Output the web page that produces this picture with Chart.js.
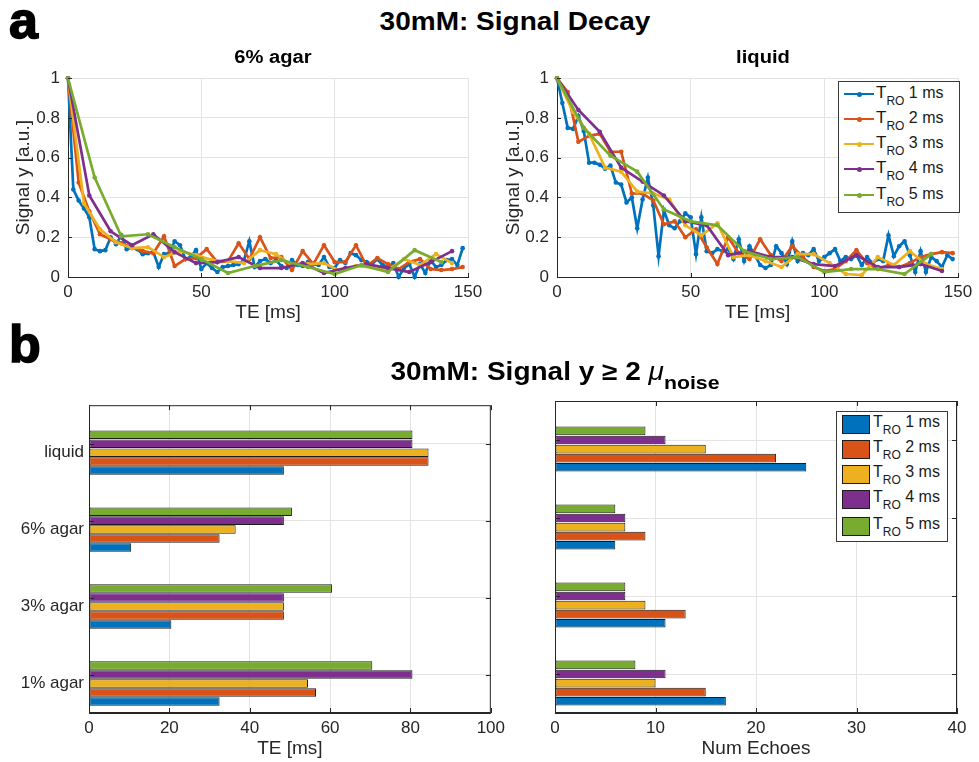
<!DOCTYPE html>
<html><head><meta charset="utf-8">
<script src="https://cdn.jsdelivr.net/npm/chart.js@4.4.1/dist/chart.umd.min.js"></script>
<style>
html,body{margin:0;padding:0;background:#fff;}
#page{position:relative;width:979px;height:762px;overflow:hidden;font-family:"Liberation Sans",Arial,Helvetica,sans-serif;color:#000;background:#fff;}
canvas{position:absolute;}
.t{position:absolute;white-space:nowrap;line-height:1;transform-origin:50% 50%;}
.c{transform:translateX(-50%) scaleX(1.12);}
.b{font-weight:bold;}
.legend{position:absolute;background:#fff;border:1px solid #3a3a3a;box-sizing:border-box;}
.row{position:absolute;left:0;right:0;height:0;}
.lab{position:absolute;white-space:nowrap;line-height:1;color:#1a1a1a;}
.lab sub{vertical-align:-7px;line-height:0;}
</style></head>
<body><div id="page">
<canvas id="cA" width="490" height="270" style="left:0;top:60px"></canvas>
<canvas id="cB" width="489" height="270" style="left:490px;top:60px"></canvas>
<canvas id="cC" width="510" height="372" style="left:0;top:390px"></canvas>
<canvas id="cD" width="469" height="372" style="left:510px;top:390px"></canvas>

<div class="t b" style="left:9px;top:-6px;font-size:52px;-webkit-text-stroke:1.6px #000">a</div>
<div class="t b c" style="left:515px;top:9px;font-size:25px">30mM: Signal Decay</div>
<div class="t b c" style="left:273px;top:48px;font-size:18px">6% agar</div>
<div class="t b c" style="left:763px;top:48px;font-size:18px">liquid</div>
<div class="t b" style="left:9px;top:318px;font-size:52px;-webkit-text-stroke:1.6px #000">b</div>
<div class="t b c" style="left:555px;top:359px;font-size:25px">30mM: Signal y ≥ 2 <span style="font-style:italic;font-weight:normal">μ</span><sub style="font-size:19px;vertical-align:-9px;line-height:0">noise</sub></div>

<div id="leg1" class="legend" style="left:838px;top:81px;width:122px;height:132px"></div>
<div id="leg2" class="legend" style="left:836px;top:411px;width:112px;height:131px"></div>
</div>
<script>
// ---------- data ----------
const seriesNames = ['1 ms','2 ms','3 ms','4 ms','5 ms'];
const seriesColors = ['#0072BD','#D95319','#EDB120','#7E2F8E','#77AC30'];

// echo times [ms] per readout duration
const teRO1 = [0,2,4,6,8,10,12,14,16,18,20,22,24,26,28,30,32,34,36,38,40,42,44,46,48,50,52,54,56,58,60,62,64,66,68,70,72,74,76,78,80,82,84,86,88,90,92,94,96,98,100,102,104,106,108,110,112,114,116,118,120,122,124,126,128,130,132,134,136,138,140,142,144,146,148];
const teRO2 = [0,4,8,12,16,20,24,28,32,36,40,44,48,52,56,60,64,68,72,76,80,84,88,92,96,100,104,108,112,116,120,124,128,132,136,140,144,148];
const teRO3 = [0,6,12,18,24,30,36,42,48,54,60,66,72,78,84,90,96,102,108,114,120,126,132,138,144];
const teRO4 = [0,8,16,24,32,40,48,56,64,72,80,88,96,104,112,120,128,136,144];
const teRO5 = [0,10,20,30,40,50,60,70,80,90,100,110,120,130,140];

// 6% agar signal
const agarRO1 = [1.00,0.44,0.385,0.345,0.30,0.14,0.13,0.135,0.20,0.165,0.21,0.14,0.15,0.14,0.115,0.12,0.125,0.05,0.115,0.12,0.18,0.16,0.09,0.10,0.135,0.04,0.07,0.045,0.025,0.05,0.055,0.06,0.065,0.085,0.18,0.05,0.08,0.09,0.07,0.085,0.055,0.045,0.085,0.06,0.055,0.075,0.065,0.06,0.10,0.05,0.045,0.085,0.07,0.12,0.11,0.085,0.075,0.065,0.09,0.06,0.05,0.07,0.00,0.045,0.065,0.00,0.065,0.02,0.085,0.05,0.06,0.085,0.09,0.06,0.145];
const agarRO2 = [1.00,0.475,0.33,0.215,0.19,0.17,0.15,0.13,0.12,0.205,0.055,0.09,0.095,0.14,0.075,0.08,0.17,0.09,0.20,0.095,0.10,0.035,0.13,0.065,0.16,0.075,0.075,0.16,0.055,0.095,0.065,0.04,0.075,0.09,0.04,0.035,0.04,0.05];
const agarRO3 = [1.00,0.37,0.24,0.175,0.145,0.15,0.10,0.13,0.11,0.085,0.08,0.07,0.135,0.115,0.06,0.065,0.07,0.03,0.055,0.05,0.035,0.09,0.06,0.115,0.07];
const agarRO4 = [1.00,0.41,0.23,0.16,0.215,0.125,0.07,0.075,0.10,0.045,0.045,0.07,0.02,0.045,0.065,0.045,0.025,0.075,0.13];
const agarRO5 = [1.00,0.50,0.205,0.215,0.15,0.09,0.02,0.055,0.085,0.05,0.015,0.06,0.025,0.135,0.075];

// liquid signal
const liqRO1 = [1.00,0.875,0.75,0.745,0.81,0.735,0.575,0.575,0.565,0.545,0.56,0.475,0.465,0.375,0.40,0.245,0.39,0.50,0.36,0.105,0.335,0.26,0.245,0.28,0.32,0.30,0.115,0.30,0.13,0.12,0.14,0.13,0.14,0.09,0.19,0.08,0.155,0.11,0.06,0.045,0.06,0.155,0.12,0.065,0.18,0.08,0.12,0.11,0.14,0.08,0.10,0.12,0.14,0.08,0.10,0.09,0.11,0.06,0.10,0.07,0.09,0.08,0.21,0.105,0.155,0.18,0.11,0.025,0.13,0.025,0.10,0.08,0.05,0.11,0.09];
const liqRO2 = [1.00,0.93,0.68,0.71,0.72,0.63,0.63,0.42,0.42,0.385,0.265,0.28,0.20,0.24,0.15,0.065,0.20,0.12,0.09,0.19,0.11,0.08,0.155,0.10,0.05,0.03,0.04,0.08,0.135,0.07,0.04,0.06,0.05,0.07,0.10,0.115,0.125,0.12];
const liqRO3 = [1.00,0.83,0.72,0.55,0.53,0.43,0.42,0.39,0.26,0.21,0.27,0.10,0.11,0.08,0.05,0.115,0.115,0.07,0.015,0.01,0.10,0.06,0.13,0.065,0.04];
const liqRO4 = [1.00,0.84,0.73,0.55,0.48,0.41,0.28,0.26,0.11,0.13,0.10,0.10,0.065,0.055,0.11,0.05,0.05,0.065,0.03];
const liqRO5 = [1.00,0.75,0.61,0.53,0.34,0.28,0.26,0.13,0.09,0.10,0.025,0.04,0.04,0.015,0.115];

// bar charts: last echo with signal >= 2 mu_noise
const sampleLabels = ['liquid','6% agar','3% agar','1% agar'];
const lastTeRO1 = [48.5,10.5,20.5,32.5];
const lastTeRO2 = [84.5,32.5,48.5,56.5];
const lastTeRO3 = [84.5,36.5,48.5,54.5];
const lastTeRO4 = [80.5,48.5,48.5,80.5];
const lastTeRO5 = [80.5,50.5,60.5,70.5];
const echoesRO1 = [25,6,11,17];
const echoesRO2 = [22,9,13,15];
const echoesRO3 = [15,7,9,10];
const echoesRO4 = [11,7,7,11];
const echoesRO5 = [9,6,7,8];

const xTicksDecay = [0,50,100,150];
const yTicksDecay = [0,0.2,0.4,0.6,0.8,1];

// ---------- rendering ----------
const FONT = '"Liberation Sans", Arial, Helvetica, sans-serif';
Chart.defaults.font.family = FONT;
Chart.defaults.color = '#262626';
Chart.defaults.animation = false;

const AX = '#262626', GRID = '#e3e3e3';

const boxPlugin = {
  id: 'mbox',
  afterDraw(chart, args, o) {
    const {ctx, chartArea: a} = chart;
    const xs = chart.scales.x, ys = chart.scales.y;
    ctx.save();
    ctx.strokeStyle = AX; ctx.lineWidth = 1;
    if (o.box) ctx.strokeRect(a.left + 0.5, a.top + 0.5, a.right - a.left - 1, a.bottom - a.top - 1);
    const L = o.tick || 0;
    ctx.beginPath();
    xs.ticks.forEach((t, i) => {
      const p = Math.round(xs.getPixelForTick(i)) + 0.5;
      ctx.moveTo(p, a.bottom); ctx.lineTo(p, a.bottom - L);
      if (o.box) { ctx.moveTo(p, a.top); ctx.lineTo(p, a.top + L); }
    });
    ys.ticks.forEach((t, i) => {
      const p = Math.round(ys.getPixelForTick(i)) + 0.5;
      ctx.moveTo(a.left, p); ctx.lineTo(a.left + L, p);
      if (o.box) { ctx.moveTo(a.right, p); ctx.lineTo(a.right - L, p); }
    });
    ctx.stroke();
    ctx.restore();
  }
};

const teLists = [teRO1, teRO2, teRO3, teRO4, teRO5];

function decayChart(id, yLists, yWidth, padRight) {
  const datasets = yLists.map((ys, k) => ({
    label: 'TRO ' + seriesNames[k],
    data: teLists[k].map((t, i) => ({x: t, y: ys[i]})),
    borderColor: seriesColors[k], backgroundColor: seriesColors[k],
    borderWidth: 2.7, pointRadius: 2.3, pointBorderWidth: 0, pointHoverRadius: 2.3,
    tension: 0, order: 5 - k, clip: 5
  }));
  return new Chart(document.getElementById(id), {
    type: 'line',
    data: {datasets},
    plugins: [boxPlugin],
    options: {
      responsive: false, animation: false,
      layout: {padding: {left: 0, top: 13, right: padRight, bottom: 0}},
      plugins: {legend: {display: false}, tooltip: {enabled: false}, mbox: {box: false, tick: 4}},
      scales: {
        x: {
          type: 'linear', min: 0, max: 150,
          afterBuildTicks: s => { s.ticks = xTicksDecay.map(v => ({value: v})); },
          ticks: {font: {size: 17}, padding: 5, color: AX, maxRotation: 0, callback: v => String(v)},
          grid: {color: GRID, drawTicks: false},
          border: {color: AX, width: 1},
          title: {display: true, text: 'TE [ms]', font: {size: 19}, color: AX, padding: {top: 0, bottom: 6}},
          afterFit: s => { s.height = 53; }
        },
        y: {
          type: 'linear', min: 0, max: 1,
          afterBuildTicks: s => { s.ticks = yTicksDecay.map(v => ({value: v})); },
          ticks: {font: {size: 17}, padding: 8, color: AX, callback: v => String(v)},
          grid: {color: GRID, drawTicks: false},
          border: {color: AX, width: 1},
          title: {display: true, text: 'Signal y [a.u.]', font: {size: 19}, color: AX, padding: {top: 12, bottom: 0}},
          afterFit: s => { s.width = yWidth; }
        }
      }
    }
  });
}

decayChart('cA', [agarRO1, agarRO2, agarRO3, agarRO4, agarRO5], 68, 22);
decayChart('cB', [liqRO1, liqRO2, liqRO3, liqRO4, liqRO5], 67, 21);

function barChart(id, lists, xMax, xStep, xTitle, showLabels, yWidth, padRight) {
  // two empty slots keep the groups below the category ticks, as in the figure
  const spacer = {label: '', data: sampleLabels.map(() => null), backgroundColor: 'rgba(0,0,0,0)'};
  const ds = [spacer, {...spacer}];
  for (let k = 4; k >= 0; k--) {
    ds.push({
      label: 'TRO ' + seriesNames[k], data: lists[k],
      backgroundColor: seriesColors[k], borderColor: '#1c1c1c', borderWidth: 1, borderSkipped: false
    });
  }
  return new Chart(document.getElementById(id), {
    type: 'bar',
    data: {labels: sampleLabels, datasets: ds},
    plugins: [boxPlugin],
    options: {
      indexAxis: 'y', responsive: false, animation: false,
      categoryPercentage: 0.815, barPercentage: 0.95,
      layout: {padding: {left: 0, top: 11, right: padRight, bottom: 0}},
      plugins: {legend: {display: false}, tooltip: {enabled: false}, mbox: {box: true, tick: 5}},
      scales: {
        x: {
          type: 'linear', min: 0, max: xMax,
          ticks: {stepSize: xStep, font: {size: 17}, padding: 5, color: AX, maxRotation: 0},
          grid: {color: GRID, drawTicks: false},
          border: {color: AX, width: 1},
          title: {display: true, text: xTitle, font: {size: 19}, color: AX, padding: {top: 0, bottom: 2}},
          afterFit: s => { s.height = 49; }
        },
        y: {
          type: 'category', offset: true,
          ticks: {display: showLabels, font: {size: 17}, padding: 5, color: AX, labelOffset: 9},
          grid: {color: GRID, drawTicks: false, offset: false},
          border: {color: AX, width: 1},
          afterFit: s => { s.width = yWidth; }
        }
      }
    }
  });
}

barChart('cC', [lastTeRO1, lastTeRO2, lastTeRO3, lastTeRO4, lastTeRO5], 100, 20, 'TE [ms]', true, 89, 19);
barChart('cD', [echoesRO1, echoesRO2, echoesRO3, echoesRO4, echoesRO5], 40, 10, 'Num Echoes', false, 45, 22);

// ---------- legends ----------
function buildLegend(elId, rowCenters, kind) {
  const el = document.getElementById(elId);
  seriesNames.forEach((name, k) => {
    const row = document.createElement('div');
    row.className = 'row';
    row.style.top = rowCenters[k] + 'px';
    if (kind === 'line') {
      row.innerHTML =
        '<div style="position:absolute;left:5px;width:30px;top:-1.3px;height:2.6px;background:' + seriesColors[k] + '"></div>' +
        '<div style="position:absolute;left:17.5px;top:-2.5px;width:5px;height:5px;border-radius:50%;background:' + seriesColors[k] + '"></div>' +
        '<div class="lab" style="left:37px;top:-10px;font-size:17px">T<sub style="font-size:12px">RO</sub><span style="font-size:16px"> ' + name + '</span></div>';
    } else {
      row.innerHTML =
        '<div style="position:absolute;left:5px;width:28px;top:-10px;height:19px;box-sizing:border-box;border:1px solid #1c1c1c;background:' + seriesColors[k] + '"></div>' +
        '<div class="lab" style="left:36px;top:-11px;font-size:16px">T<sub style="font-size:12px">RO</sub><span style="font-size:16px"> ' + name + '</span></div>';
    }
    el.appendChild(row);
  });
}
buildLegend('leg1', [12, 37, 62, 87, 113], 'line');
buildLegend('leg2', [13, 38, 63, 88, 115], 'bar');
</script>
</body></html>
